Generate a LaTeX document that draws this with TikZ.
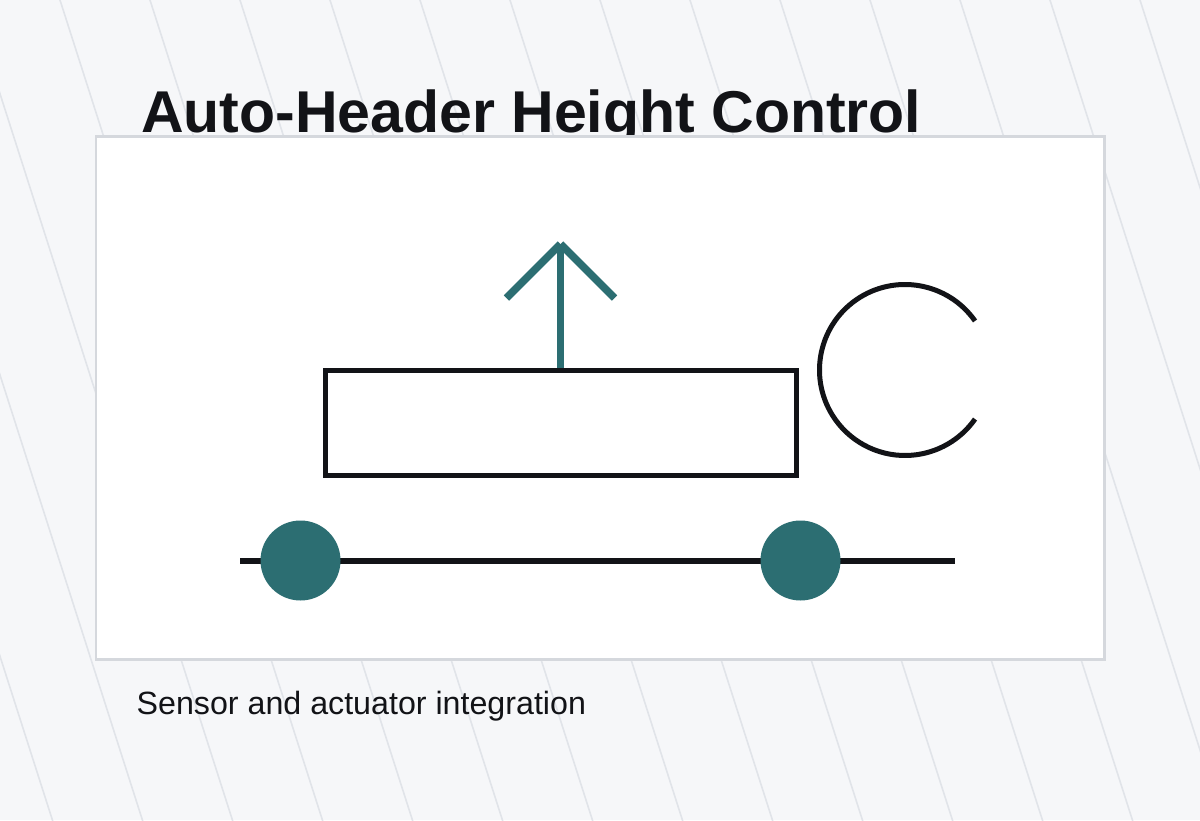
\documentclass[tikz,border=0pt]{standalone}
\usepackage{fontspec}
\setmainfont{Liberation Sans}
\definecolor{bgc}{HTML}{F6F7F9}
\definecolor{stripec}{HTML}{E1E4E9}
\definecolor{cardc}{HTML}{D5D8DD}
\definecolor{inkc}{HTML}{121317}
\definecolor{tealc}{HTML}{2C6E72}
\begin{document}
\begin{tikzpicture}[x=1pt,y=-1pt,
  stripe/.style={draw=stripec,line width=1.6pt},
  cardbox/.style={draw=cardc,fill=white,line width=2.8pt,inner sep=0pt,outer sep=0pt},
  titletext/.style={anchor=base west,inner sep=0pt,text=inkc,font=\fontsize{59}{62}\selectfont\bfseries},
  captiontext/.style={anchor=base west,inner sep=0pt,text=inkc,font=\fontsize{32.2}{36}\selectfont},
  headerbox/.style={draw=inkc,line width=5pt,inner sep=0pt,minimum width=471pt,minimum height=105pt},
  inkline/.style={draw=inkc,line width=5pt},
  railline/.style={draw=inkc,line width=6pt},
  liftline/.style={draw=tealc,line width=7.5pt},
  wheel/.style={circle,fill=tealc,inner sep=0pt,minimum size=80pt}]
\fill[bgc] (0,0) rectangle (1200,820);
\useasboundingbox (0,0) rectangle (1200,820);
\begin{scope}
  \clip (0,0) rectangle (1200,820);
  \foreach \k in {-4,...,13}
    \draw[stripe] ({60+90*\k-0.32*5},-5) -- ({60+90*\k+0.32*825},825);
\end{scope}
\node[titletext] (title) at (141,132.5) {Auto-Header Height Control};
\node[cardbox,minimum width=1008.5pt,minimum height=523.5pt] (card) at (600.25,398) {};
\node[headerbox] (header) at (560.5,422.5) {};
\coordinate (tip) at (560.5,244);
\coordinate (chevL) at (506.5,298);
\coordinate (chevR) at (614.5,298);
\draw[liftline] (header.north) -- (tip);
\draw[liftline] (chevL) -- (tip);
\draw[liftline] (tip) -- (chevR);
\coordinate (reelc) at (905,370);
\coordinate (reelS) at (975.04,320.96);
\draw[inkline] (reelS) arc[start angle=35,end angle=325,radius=85.5pt];
\coordinate (railL) at (240,561);
\coordinate (railR) at (955,561);
\draw[railline] (railL) -- (railR);
\node[wheel] (wheelL) at (300.5,560.5) {};
\node[wheel] (wheelR) at (800.5,560.5) {};
\node[captiontext] (caption) at (136.5,714.5) {Sensor and actuator integration};
\end{tikzpicture}
\end{document}
